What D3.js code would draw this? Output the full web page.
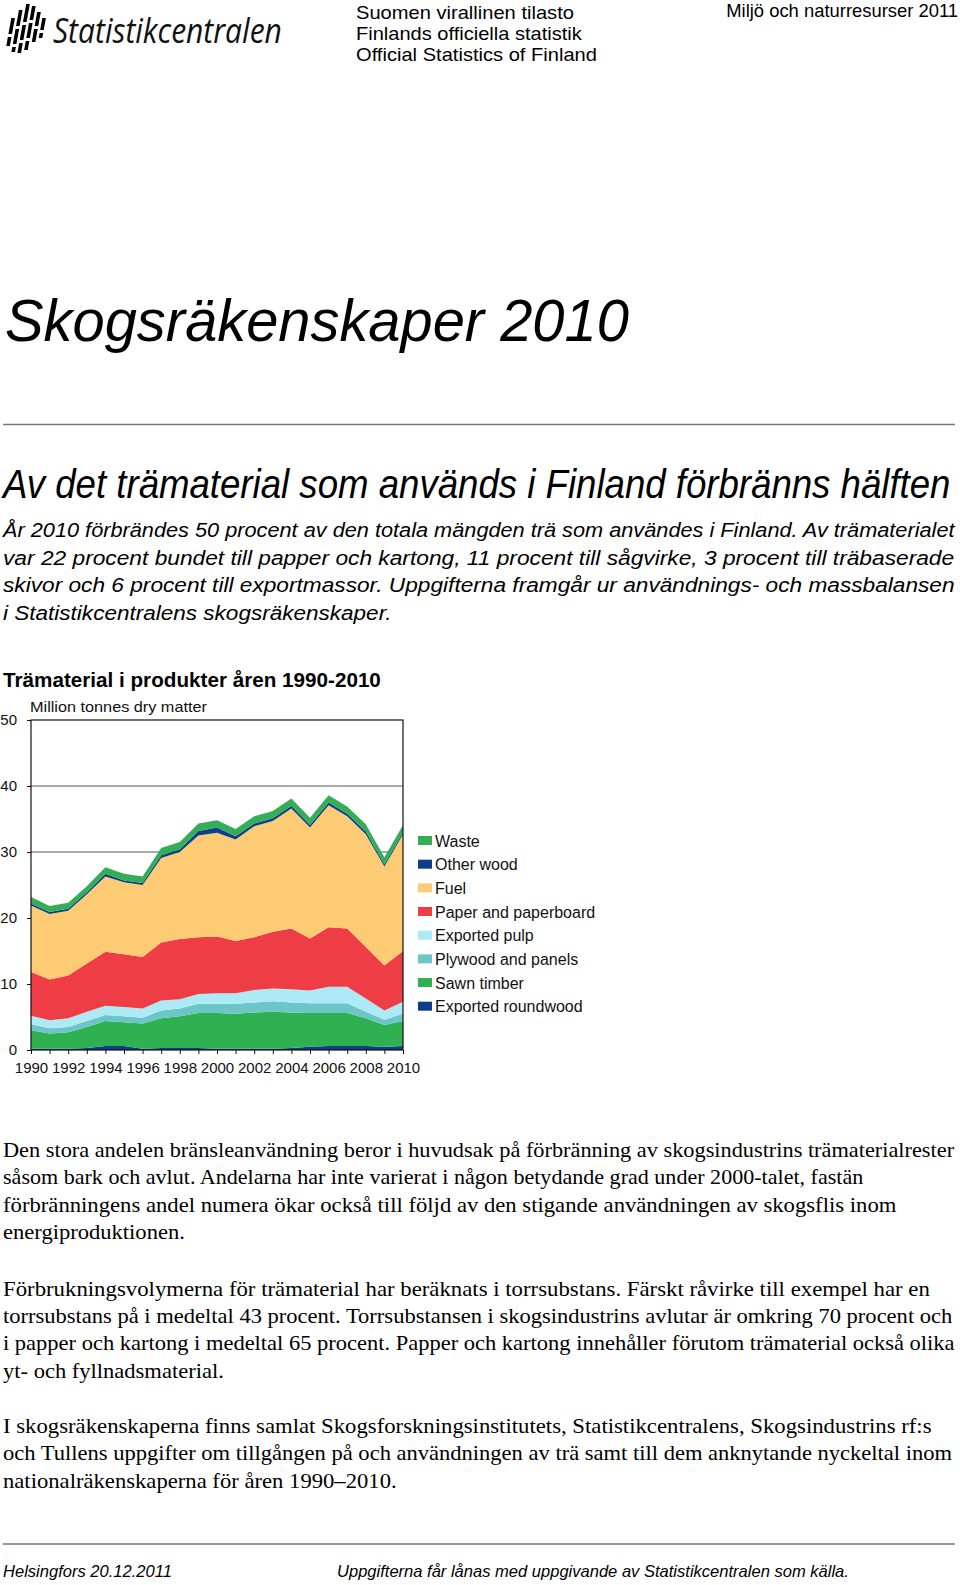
<!DOCTYPE html>
<html>
<head>
<meta charset="utf-8">
<script src="https://cdn.jsdelivr.net/npm/d3@7"></script>
<style>
  html, body { margin: 0; padding: 0; background: #fff; }
  svg { display: block; }
</style>
</head>
<body>
<svg id="page" width="960" height="1585"></svg>
<script>
// ---------------- DATA ----------------
const years = [1990,1991,1992,1993,1994,1995,1996,1997,1998,1999,2000,2001,2002,2003,2004,2005,2006,2007,2008,2009,2010];
const yearLabels = ["1990","1992","1994","1996","1998","2000","2002","2004","2006","2008","2010"];
const yTickValues = [0,10,20,30,40,50];
// million tonnes dry matter, stacked from bottom to top
const exportedRoundwood = [0.2,0.2,0.2,0.3,0.6,0.6,0.2,0.3,0.3,0.3,0.2,0.2,0.2,0.2,0.3,0.5,0.6,0.6,0.6,0.5,0.6];
const sawnTimber        = [2.8,2.3,2.5,3.2,3.8,3.6,3.8,4.5,4.8,5.3,5.4,5.3,5.5,5.6,5.4,5.1,5.0,5.0,4.2,3.3,3.8];
const plywoodPanels     = [0.9,0.8,0.8,0.9,0.9,0.9,0.9,1.2,1.2,1.4,1.4,1.5,1.5,1.6,1.5,1.5,1.5,1.5,1.0,0.8,1.1];
const exportedPulp      = [1.3,1.2,1.3,1.4,1.4,1.4,1.4,1.5,1.4,1.5,1.6,1.6,1.9,1.9,2.0,1.9,2.5,2.5,2.0,1.4,1.8];
const paperBoard        = [6.6,6.2,6.5,7.3,8.2,8.0,7.8,8.8,9.1,8.6,8.6,7.9,8.0,8.6,9.2,7.9,9.0,8.8,7.8,6.8,7.7];
const fuel              = [10.1,9.9,9.8,10.5,11.4,10.9,10.9,12.8,13.2,15.4,15.7,15.4,16.8,16.8,18.2,16.8,18.5,17.0,17.1,15.0,17.7];
const otherWood         = [0.3,0.3,0.3,0.3,0.4,0.3,0.3,0.4,0.4,0.7,0.8,0.5,0.4,0.4,0.4,0.4,0.4,0.4,0.4,0.3,0.3];
const waste             = [1.0,0.9,0.9,0.9,1.0,1.0,1.0,1.1,1.1,1.1,1.1,1.1,1.1,1.1,1.1,1.1,1.1,1.1,1.1,1.1,1.1];

const seriesNames  = ["Exported roundwood","Sawn timber","Plywood and panels","Exported pulp","Paper and paperboard","Fuel","Other wood","Waste"];
const seriesValues = [exportedRoundwood, sawnTimber, plywoodPanels, exportedPulp, paperBoard, fuel, otherWood, waste];
const seriesColors = ["#0c3f87","#2fb152","#6cc6c8","#acebf5","#ee3d44","#fdcb74","#0c3f87","#33ae57"];

// ---------------- PAGE ----------------
const svg = d3.select("#page");
const SANS = "'Liberation Sans', Arial, sans-serif";
const SERIF = "'Liberation Serif', 'Times New Roman', serif";
const HEAD = "'Open Sans', 'Liberation Sans', sans-serif";

// Text fitted to a target width with a horizontal scale transform
function txt(x, y, s, opts) {
  const t = svg.append("text").attr("x", 0).attr("y", 0).text(s)
    .attr("font-family", opts.family || SANS)
    .attr("font-size", opts.size)
    .attr("fill", opts.fill || "#000");
  if (opts.italic) t.attr("font-style", "italic");
  if (opts.bold) t.attr("font-weight", "bold");
  if (opts.anchor) t.attr("text-anchor", opts.anchor);
  let k = 1;
  if (opts.width) {
    const w = t.node().getComputedTextLength();
    if (w > 0) k = opts.width / w;
  }
  t.attr("transform", `translate(${x},${y}) scale(${k},1)`);
  return t;
}

// Logo icon (slanted bar grid)
const logo = svg.append("g").attr("transform", "translate(3,4)");
const cols = [
  [[14,30],[33,42]],
  [[6,22],[25,40],[43,48]],
  [[0,18],[21,36],[39,49]],
  [[2,16],[19,34],[37,46]],
  [[8,22],[25,38]],
  [[14,26],[29,34]]
];
cols.forEach((segs, i) => {
  segs.forEach(([a,b]) => {
    const x0 = 2 + i * 6.2;
    const sl = 0.18;
    logo.append("path")
      .attr("d", `M${x0 + (49 - a) * sl},${a} L${x0 + 3.6 + (49 - a) * sl},${a} L${x0 + 3.6 + (49 - b) * sl},${b} L${x0 + (49 - b) * sl},${b} Z`)
      .attr("fill", "#000");
  });
});
txt(53, 43, "Statistikcentralen", {size: 34, italic: true, width: 229, family: HEAD, fill: "#111"});

txt(356, 19, "Suomen virallinen tilasto", {size: 18, width: 218});
txt(356, 40, "Finlands officiella statistik", {size: 18, width: 226});
txt(356, 61, "Official Statistics of Finland", {size: 18, width: 241});

txt(958, 17, "Miljö och naturresurser 2011", {size: 18, anchor: "end", width: 232});

// Title
txt(5, 341, "Skogsräkenskaper 2010", {size: 59, italic: true, width: 624});
svg.append("line").attr("x1", 3).attr("x2", 955).attr("y1", 424.5).attr("y2", 424.5)
  .attr("stroke", "#777").attr("stroke-width", 1.5);

txt(3, 498, "Av det trämaterial som används i Finland förbränns hälften", {size: 40, italic: true, width: 948});

const introLines = [
  ["År 2010 förbrändes 50 procent av den totala mängden trä som användes i Finland. Av trämaterialet", 952],
  ["var 22 procent bundet till papper och kartong, 11 procent till sågvirke, 3 procent till träbaserade", 952],
  ["skivor och 6 procent till exportmassor. Uppgifterna framgår ur användnings- och massbalansen", 952],
  ["i Statistikcentralens skogsräkenskaper.", 389]
];
introLines.forEach((l, i) => txt(3, 537 + i * 27.5, l[0], {size: 21, italic: true, width: l[1]}));

txt(3, 687, "Trämaterial i produkter åren 1990-2010", {size: 20.5, bold: true, width: 378});

// ---------------- CHART ----------------
const x = d3.scaleLinear().domain([1990, 2010]).range([31, 403]);
const y = d3.scaleLinear().domain([0, 50]).range([1050, 720]);

const table = years.map((yr, i) => {
  const row = {year: yr};
  seriesNames.forEach((n, k) => row[n] = seriesValues[k][i]);
  return row;
});
const stacked = d3.stack().keys(seriesNames)(table);

const chart = svg.append("g");
// gridlines
chart.selectAll("line.grid").data(yTickValues.filter(v => v > 0 && v < 50)).join("line")
  .attr("x1", x(1990)).attr("x2", x(2010))
  .attr("y1", d => y(d)).attr("y2", d => y(d))
  .attr("stroke", "#555").attr("stroke-width", 1);

const area = d3.area()
  .x(d => x(d.data.year))
  .y0(d => y(d[0]))
  .y1(d => y(d[1]));

chart.selectAll("path.layer").data(stacked).join("path")
  .attr("d", area)
  .attr("fill", (d, i) => seriesColors[i]);

// frame
chart.append("rect").attr("x", x(1990)).attr("y", y(50))
  .attr("width", x(2010) - x(1990)).attr("height", y(0) - y(50))
  .attr("fill", "none").attr("stroke", "#111").attr("stroke-width", 1.2);

const xAxis = chart.append("g").attr("transform", `translate(0,${y(0)})`)
  .call(d3.axisBottom(x).tickValues(years).tickSize(4).tickPadding(8)
    .tickFormat(d => yearLabels.includes(String(d)) ? String(d) : ""));
xAxis.select(".domain").remove();
xAxis.selectAll("line").attr("stroke", "#111");
xAxis.selectAll("text").attr("font-family", SANS).attr("font-size", 15).attr("fill", "#111");

const yAxis = chart.append("g").attr("transform", `translate(${x(1990)},0)`)
  .call(d3.axisLeft(y).tickValues(yTickValues).tickSize(4).tickPadding(10));
yAxis.select(".domain").remove();
yAxis.selectAll("line").attr("stroke", "#111");
yAxis.selectAll("text").attr("font-family", SANS).attr("font-size", 15).attr("fill", "#111");

txt(30, 712, "Million tonnes dry matter", {size: 14, width: 177, fill: "#111"});

// legend
const legendOrder = seriesNames.map((n, i) => ({name: n, color: seriesColors[i]})).reverse();
const lg = chart.selectAll("g.leg").data(legendOrder).join("g")
  .attr("transform", (d, i) => `translate(418,${841 + i * 23.67})`);
lg.append("rect").attr("x", 0).attr("y", -5).attr("width", 14).attr("height", 9).attr("fill", d => d.color);
lg.append("text").attr("x", 17).attr("y", 5.5).text(d => d.name)
  .attr("font-family", SANS).attr("font-size", 16).attr("fill", "#111");

// ---------------- BODY TEXT ----------------
const bodyParas = [
  {y: 1157, lines: [
    ["Den stora andelen bränsleanvändning beror i huvudsak på förbränning av skogsindustrins trämaterialrester", 952],
    ["såsom bark och avlut. Andelarna har inte varierat i någon betydande grad under 2000-talet, fastän", 861],
    ["förbränningens andel numera ökar också till följd av den stigande användningen av skogsflis inom", 894],
    ["energiproduktionen.", 182]
  ]},
  {y: 1295.5, lines: [
    ["Förbrukningsvolymerna för trämaterial har beräknats i torrsubstans. Färskt råvirke till exempel har en", 927],
    ["torrsubstans på i medeltal 43 procent. Torrsubstansen i skogsindustrins avlutar är omkring 70 procent och", 950],
    ["i papper och kartong i medeltal 65 procent. Papper och kartong innehåller förutom trämaterial också olika", 952],
    ["yt- och fyllnadsmaterial.", 221]
  ]},
  {y: 1433, lines: [
    ["I skogsräkenskaperna finns samlat Skogsforskningsinstitutets, Statistikcentralens, Skogsindustrins rf:s", 929],
    ["och Tullens uppgifter om tillgången på och användningen av trä samt till dem anknytande nyckeltal inom", 950],
    ["nationalräkenskaperna för åren 1990–2010.", 394]
  ]}
];
bodyParas.forEach(p => p.lines.forEach((l, i) =>
  txt(3, p.y + i * 27.35, l[0], {size: 21, family: SERIF, width: l[1]})));

// footer
svg.append("line").attr("x1", 3).attr("x2", 955).attr("y1", 1544).attr("y2", 1544)
  .attr("stroke", "#777").attr("stroke-width", 1.5);
txt(3, 1577, "Helsingfors 20.12.2011", {size: 16, italic: true, width: 169});
txt(337, 1577, "Uppgifterna får lånas med uppgivande av Statistikcentralen som källa.", {size: 16, italic: true, width: 512});
</script>
</body>
</html>
